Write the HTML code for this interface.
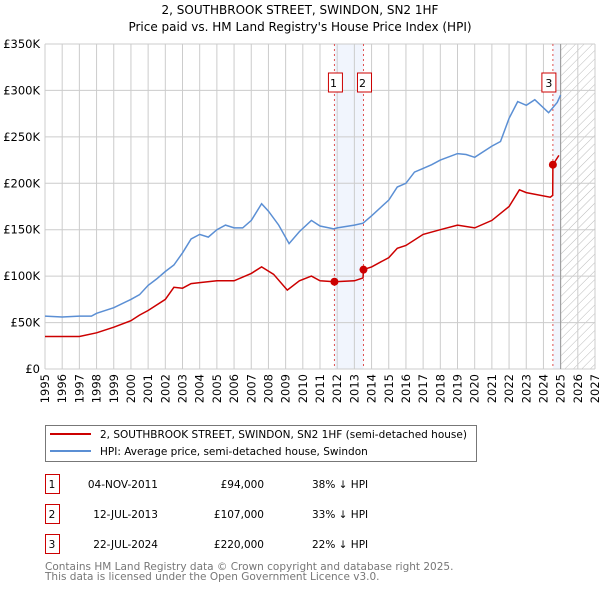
<!DOCTYPE html>
<html><head><meta charset="utf-8"><style>
body{margin:0;background:#fff;font-family:"DejaVu Sans","Liberation Sans",sans-serif;}
#wrap{position:relative;width:600px;height:590px;overflow:hidden;}
svg text{font-family:"DejaVu Sans","Liberation Sans",sans-serif;}
</style></head><body>
<div id="wrap">
<svg id="chart" width="600" height="590"></svg>
</div>
<script>
const xTickYears=[1995,1996,1997,1998,1999,2000,2001,2002,2003,2004,2005,2006,2007,2008,2009,2010,2011,2012,2013,2014,2015,2016,2017,2018,2019,2020,2021,2022,2023,2024,2025,2026,2027];
const yTicks=[0,50000,100000,150000,200000,250000,300000,350000];
const yTickLabels=["£0","£50K","£100K","£150K","£200K","£250K","£300K","£350K"];
const hpiYears=[1995,1996,1997,1997.7,1998,1999,2000,2000.5,2001,2001.5,2002,2002.5,2003,2003.5,2004,2004.5,2005,2005.5,2006,2006.5,2007,2007.6,2008,2008.6,2009.2,2009.8,2010.5,2011,2011.8,2012,2013,2013.5,2014,2015,2015.5,2016,2016.5,2017,2017.5,2018,2019,2019.5,2020,2021,2021.5,2022,2022.5,2023,2023.5,2024.3,2024.8,2025];
const hpiValues=[57000,56000,57000,57000,60000,66000,75000,80000,90000,97000,105000,112000,125000,140000,145000,142000,150000,155000,152000,152000,160000,178000,170000,155000,135000,148000,160000,154000,151000,152000,155000,157000,165000,182000,196000,200000,212000,216000,220000,225000,232000,231000,228000,240000,245000,270000,288000,284000,290000,276000,287000,295000];
const priceYears=[1995,1996,1997,1998,1999,2000,2000.5,2001,2002,2002.5,2003,2003.5,2004,2005,2006,2007,2007.6,2008.3,2009.1,2009.8,2010.5,2011,2011.84,2013,2013.5,2013.53,2014,2015,2015.5,2016,2017,2018,2019,2020,2021,2022,2022.6,2023,2024.4,2024.54,2024.55,2024.9];
const priceValues=[35000,35000,35000,39000,45000,52000,58000,63000,75000,88000,87000,92000,93000,95000,95000,103000,110000,102000,85000,95000,100000,95000,94000,95000,98000,107000,110000,120000,130000,133000,145000,150000,155000,152000,160000,175000,193000,190000,185000,187000,220000,230000];
const saleYears=[2011.84,2013.53,2024.55];
const salePrices=[94000,107000,220000];
const saleLabels=["1","2","3"];
const saleDates=["04-NOV-2011","12-JUL-2013","22-JUL-2024"];
const salePriceText=["£94,000","£107,000","£220,000"];
const saleDiff=["38% ↓ HPI","33% ↓ HPI","22% ↓ HPI"];

const NS="http://www.w3.org/2000/svg";
const svg=document.getElementById('chart');
const L=45,R=595,T=44,B=369,X0=1995,X1=2027,Y1=350000;
const xs=y=>L+(y-X0)/(X1-X0)*(R-L);
const ys=v=>B-v/Y1*(B-T);
function mk(tag,attrs,parent){const e=document.createElementNS(NS,tag);for(const k in attrs)e.setAttribute(k,attrs[k]);(parent||svg).appendChild(e);return e;}
const defs=mk('defs',{});
const pat=mk('pattern',{id:'hatch',width:6,height:6,patternUnits:'userSpaceOnUse',patternTransform:'rotate(45)'},defs);
mk('line',{x1:0,y1:0,x2:0,y2:6,stroke:'#bbb','stroke-width':1},pat);
let t=mk('text',{x:300,y:14,'text-anchor':'middle','font-size':12});t.textContent="2, SOUTHBROOK STREET, SWINDON, SN2 1HF";


t=mk('text',{x:300,y:31,'text-anchor':'middle','font-size':12});t.textContent="Price paid vs. HM Land Registry's House Price Index (HPI)";


let band=mk('rect',{x:xs(saleYears[0]),y:T,width:xs(saleYears[1])-xs(saleYears[0]),height:B-T,fill:'#e8eefb',opacity:0.6});


band=mk('rect',{x:xs(saleYears[2]),y:T,width:xs(2025)-xs(saleYears[2]),height:B-T,fill:'#e8eefb',opacity:0.6});


let h=mk('rect',{x:xs(2025),y:T,width:R-xs(2025),height:B-T,fill:'url(#hatch)'});


xTickYears.forEach(y=>{const g=mk('line',{x1:xs(y),x2:xs(y),y1:T,y2:B,stroke:'#cccccc','stroke-width':1});


const tl=mk('text',{x:0,y:0,'text-anchor':'end','font-size':11.5,transform:'translate('+(xs(y)+4)+',374) rotate(-90)'});tl.textContent=y;

});
yTicks.forEach((v,i)=>{const g=mk('line',{x1:L,x2:R,y1:ys(v),y2:ys(v),stroke:'#cccccc','stroke-width':1});


const tl=mk('text',{x:40,y:ys(v)+4,'text-anchor':'end','font-size':11.5});tl.textContent=yTickLabels[i];

});
mk('line',{x1:xs(2025),x2:xs(2025),y1:T,y2:B,stroke:'#999','stroke-width':1});
saleYears.forEach((y,i)=>{const l=mk('line',{x1:xs(y),x2:xs(y),y1:T,y2:B,stroke:'#e05050','stroke-width':1,'stroke-dasharray':'2,3'});


const bx=mk('rect',{x:xs(y)-(i==2?11:6),y:73,width:14,height:19,fill:'#fff',stroke:'#cc0000','stroke-width':1});


const tx=mk('text',{x:xs(y)-(i==2?4:1),y:87,'text-anchor':'middle','font-size':11});tx.textContent=saleLabels[i];

});
const pts=(xa,va)=>xa.map((x,i)=>xs(x).toFixed(1)+','+ys(va[i]).toFixed(1)).join(' ');
let p=mk('polyline',{points:pts(hpiYears,hpiValues),fill:'none',stroke:'#5b8fd4','stroke-width':1.5});


p=mk('polyline',{points:pts(priceYears,priceValues),fill:'none',stroke:'#cc0000','stroke-width':1.5});


saleYears.forEach((y,i)=>{const c=mk('circle',{cx:xs(y),cy:ys(salePrices[i]),r:4,fill:'#cc0000'});

});
const lg=mk('g',{});


mk('rect',{x:45.5,y:425.5,width:431,height:36,fill:'#fff',stroke:'#777','stroke-width':1},lg);
mk('line',{x1:50,x2:91,y1:434,y2:434,stroke:'#cc0000','stroke-width':2},lg);
mk('line',{x1:50,x2:91,y1:451,y2:451,stroke:'#5b8fd4','stroke-width':2},lg);
let e=mk('text',{x:100,y:438,'font-size':10.5},lg);e.textContent="2, SOUTHBROOK STREET, SWINDON, SN2 1HF (semi-detached house)";


e=mk('text',{x:100,y:455,'font-size':10.5},lg);e.textContent="HPI: Average price, semi-detached house, Swindon";


const rowY=[482,512,542];
saleLabels.forEach((s,i)=>{const y=rowY[i];
const b=mk('rect',{x:45.5,y:y-7.5,width:14,height:19,fill:'#fff',stroke:'#cc0000','stroke-width':1});


const cells=[[52,s,'middle'],[158,saleDates[i],'end'],[264,salePriceText[i],'end'],[312,saleDiff[i],'start']];
cells.forEach(c=>{const tt=mk('text',{x:c[0],y:y+6,'text-anchor':c[2],'font-size':10.5});tt.textContent=c[1];

});});
e=mk('text',{x:45,y:570,'font-size':10.5,fill:'#777'});e.textContent="Contains HM Land Registry data © Crown copyright and database right 2025.";


e=mk('text',{x:45,y:580,'font-size':10.5,fill:'#777'});e.textContent="This data is licensed under the Open Government Licence v3.0.";


</script>
</body></html>
